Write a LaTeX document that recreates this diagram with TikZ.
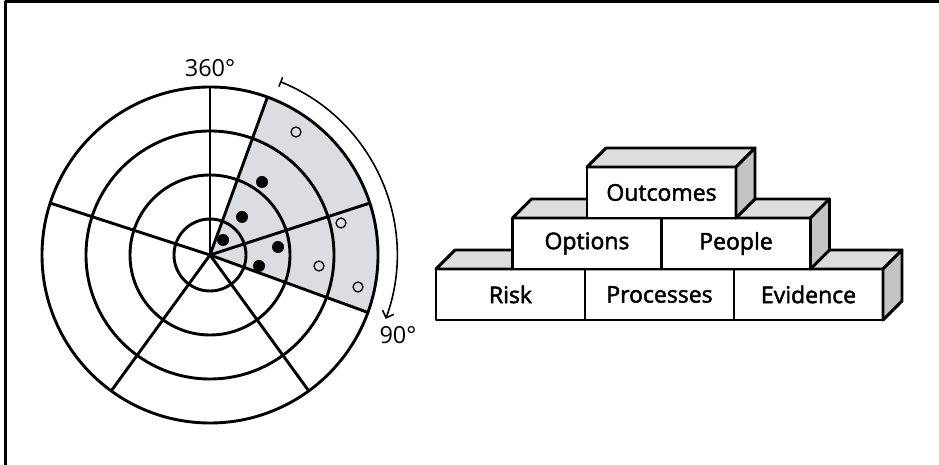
\documentclass[tikz,border=0pt]{standalone}
\usepackage{fontspec}
\setmainfont{Open Sans}
\newfontfamily\brickfont{Open Sans}[FakeBold=2]
\usetikzlibrary{arrows.meta,calc}
\definecolor{wedgegray}{HTML}{DCDDE0}
\definecolor{topgray}{HTML}{DCDDDF}
\definecolor{sidegray}{HTML}{C3C4C6}

\begin{document}
\begin{tikzpicture}[x=1pt,y=1pt,line join=round]
  \tikzstyle{ring}=[line width=2.9pt]
  \tikzstyle{dot}=[circle,fill=black,minimum size=12pt,inner sep=0pt]
  \tikzstyle{hollow}=[circle,draw,line width=1.2pt,minimum size=10pt,inner sep=0pt]
  \tikzstyle{brick}=[draw,fill=white,line width=2.9pt,outer sep=0pt,minimum width=149pt,minimum height=51pt,inner sep=0pt,font=\brickfont\fontsize{23}{27}\selectfont]
  \tikzstyle{topface}=[draw,fill=topgray,line width=2.9pt]
  \tikzstyle{sideface}=[draw,fill=sidegray,line width=2.9pt]
  \tikzstyle{deg}=[font=\fontsize{23.5}{27}\selectfont]
  \useasboundingbox (0,0) rectangle (939,465);

  % frame
  \draw[line width=3pt] (5,0) -- (5,463) -- (939,463);

  % target
  \coordinate (c) at (210,210);
  \fill[wedgegray] (c) -- ++(70:168pt) arc[start angle=70,end angle=-20,radius=168pt] -- cycle;
  \foreach \r in {36,80,124,168}
    \draw[ring] (c) circle (\r pt);
  \foreach \a in {90,18,-54,-126,162,70,-20}
    \draw[ring] (c) -- ++(\a:168pt);

  \node[dot] (d1) at (262,283) {};
  \node[dot] (d2) at (242,248) {};
  \node[dot] (d3) at (223,225) {};
  \node[dot] (d4) at (278,218) {};
  \node[dot] (d5) at (259,199) {};
  \node[hollow] (o1) at (296,333) {};
  \node[hollow] (o2) at (341,242) {};
  \node[hollow] (o3) at (319,199) {};
  \node[hollow] (o4) at (358,178) {};

  \node[deg] (top) at (210,397) {360°};
  \node[deg] (right) at (398,130) {90°};
  \coordinate (s) at ($(c)+(68:187pt)$);
  \draw[line width=1.6pt,{Bar[width=10pt]}-{Straight Barb[length=6pt,width=12pt]}]
    (s) arc[start angle=68,end angle=-20,radius=187pt];

  % bricks, bottom row
  \node[brick] (risk) at (510.5,170.5) {Risk};
  \node[brick] (proc) at (659.5,170.5) {Processes};
  \node[brick] (evid) at (808.5,170.5) {Evidence};
  \foreach \b in {risk,proc,evid}
    \draw[topface] (\b.north west) -- ++(19,19) -- ([shift={(19,19)}]\b.north east) -- (\b.north east) -- cycle;
  \draw[sideface] (evid.north east) -- ++(19,19) -- ([shift={(19,19)}]evid.south east) -- (evid.south east) -- cycle;

  % middle row
  \node[brick] (opt) at (587,221.5) {Options};
  \node[brick] (peop) at (736,221.5) {People};
  \foreach \b in {opt,peop}
    \draw[topface] (\b.north west) -- ++(19,19) -- ([shift={(19,19)}]\b.north east) -- (\b.north east) -- cycle;
  \draw[sideface] (peop.north east) -- ++(19,19) -- ([shift={(19,19)}]peop.south east) -- (peop.south east) -- cycle;

  % top
  \node[brick] (outc) at (661.5,272.5) {Outcomes};
  \draw[topface] (outc.north west) -- ++(19,19) -- ([shift={(19,19)}]outc.north east) -- (outc.north east) -- cycle;
  \draw[sideface] (outc.north east) -- ++(19,19) -- ([shift={(19,19)}]outc.south east) -- (outc.south east) -- cycle;
\end{tikzpicture}
\end{document}
